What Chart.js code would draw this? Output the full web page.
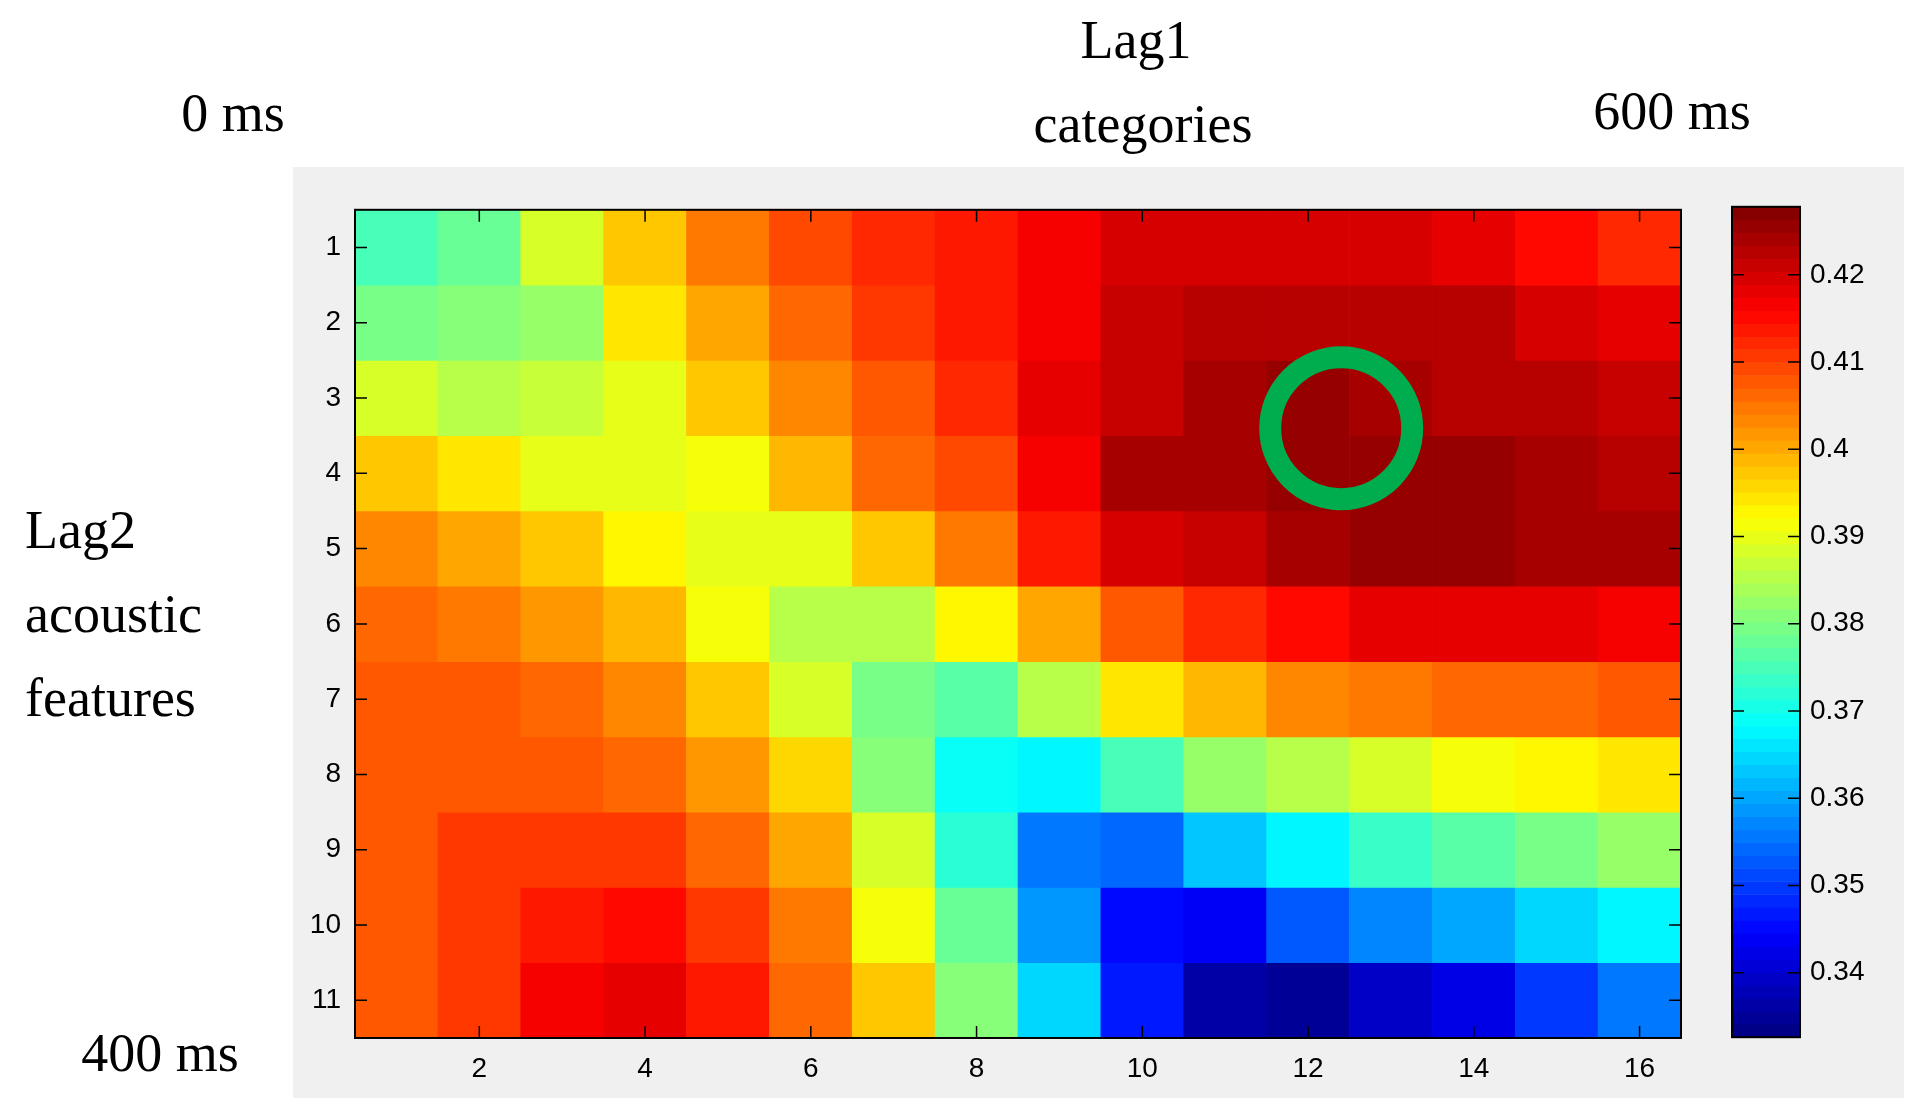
<!DOCTYPE html>
<html>
<head>
<meta charset="utf-8">
<script src="https://cdn.jsdelivr.net/npm/chart.js@4/dist/chart.umd.min.js"></script>
<style>
  body { margin: 0; width: 1910px; height: 1117px; background: #fff; position: relative; overflow: hidden;
         font-family: 'Liberation Serif', 'DejaVu Serif', serif; }
  #panel { position: absolute; left: 293px; top: 167px; width: 1611px; height: 931px; background: #f0f0f0; }
  .lbl { position: absolute; font-size: 54px; color: #000; white-space: nowrap; line-height: 1; }
  .c { transform: translate(-50%, -50%); }
  .l { transform: translate(0, -50%); }
  #heat { position: absolute; left: 293px; top: 187px; }
  #cbar { position: absolute; left: 1730px; top: 188px; }
</style>
</head>
<body>
<div id="panel"></div>
<div class="lbl c" style="left:1136px;top:40px">Lag1</div>
<div class="lbl c" style="left:1143px;top:124px">categories</div>
<div class="lbl c" style="left:233px;top:113px">0 ms</div>
<div class="lbl c" style="left:1672px;top:111px">600 ms</div>
<div class="lbl l" style="left:25px;top:530px">Lag2</div>
<div class="lbl l" style="left:25px;top:614px">acoustic</div>
<div class="lbl l" style="left:25px;top:698px">features</div>
<div class="lbl c" style="left:160px;top:1053px">400 ms</div>
<canvas id="heat" width="1390" height="905"></canvas>
<canvas id="cbar" width="140" height="868"></canvas>
<script>
// ── data ─────────────────────────────────────────────
const lag1Cols = [1, 2, 3, 4, 5, 6, 7, 8, 9, 10, 11, 12, 13, 14, 15, 16];
const lag2Rows = [1, 2, 3, 4, 5, 6, 7, 8, 9, 10, 11];
const row1  = [0.375, 0.378, 0.388, 0.398, 0.404, 0.409, 0.412, 0.414, 0.417, 0.419, 0.419, 0.419, 0.419, 0.418, 0.415, 0.412];
const row2  = [0.380, 0.381, 0.383, 0.395, 0.401, 0.406, 0.411, 0.414, 0.416, 0.421, 0.422, 0.422, 0.422, 0.422, 0.419, 0.418];
const row3  = [0.389, 0.385, 0.387, 0.390, 0.398, 0.403, 0.408, 0.412, 0.418, 0.421, 0.424, 0.425, 0.424, 0.423, 0.422, 0.421];
const row4  = [0.397, 0.394, 0.390, 0.390, 0.392, 0.399, 0.406, 0.409, 0.417, 0.424, 0.424, 0.425, 0.425, 0.425, 0.424, 0.423];
const row5  = [0.403, 0.400, 0.398, 0.393, 0.390, 0.390, 0.398, 0.404, 0.413, 0.419, 0.421, 0.424, 0.425, 0.425, 0.424, 0.424];
const row6  = [0.406, 0.404, 0.402, 0.399, 0.391, 0.386, 0.386, 0.393, 0.401, 0.408, 0.412, 0.415, 0.418, 0.418, 0.418, 0.416];
const row7  = [0.407, 0.407, 0.406, 0.403, 0.398, 0.389, 0.380, 0.377, 0.386, 0.394, 0.399, 0.403, 0.405, 0.406, 0.406, 0.407];
const row8  = [0.408, 0.408, 0.408, 0.406, 0.402, 0.396, 0.381, 0.369, 0.368, 0.375, 0.382, 0.386, 0.389, 0.391, 0.393, 0.395];
const row9  = [0.408, 0.410, 0.411, 0.411, 0.406, 0.400, 0.388, 0.372, 0.355, 0.354, 0.363, 0.368, 0.374, 0.377, 0.379, 0.382];
const row10 = [0.408, 0.411, 0.413, 0.415, 0.411, 0.405, 0.392, 0.378, 0.358, 0.345, 0.344, 0.353, 0.357, 0.360, 0.365, 0.368];
const row11 = [0.408, 0.411, 0.417, 0.418, 0.414, 0.406, 0.398, 0.381, 0.364, 0.347, 0.337, 0.335, 0.339, 0.343, 0.350, 0.355];
const rows = [row1, row2, row3, row4, row5, row6, row7, row8, row9, row10, row11];
const xTicks = [2, 4, 6, 8, 10, 12, 14, 16];
const cbarTicks = [0.34, 0.35, 0.36, 0.37, 0.38, 0.39, 0.40, 0.41, 0.42];
const cMin = 0.3326, cMax = 0.4278;
const marker = [{ x: 12.4, y: 3.4 }];

// ── jet colormap (64 levels, like MATLAB) ───────────
const clamp = v => Math.max(0, Math.min(1, v));
function jet(v) {
  let t = (v - cMin) / (cMax - cMin);
  t = (Math.min(63, Math.max(0, Math.floor(t * 64))) + 0.5) / 64;
  const r = clamp(Math.min(4 * t - 1.5, -4 * t + 4.5));
  const g = clamp(Math.min(4 * t - 0.5, -4 * t + 3.5));
  const b = clamp(Math.min(4 * t + 0.5, -4 * t + 2.5));
  return `rgb(${Math.round(r * 255)},${Math.round(g * 255)},${Math.round(b * 255)})`;
}

const tickFont = { family: "'Liberation Sans Narrow', 'Liberation Sans', sans-serif", size: 28 };

// inward tick marks on all four sides, MATLAB style
const inwardTicks = {
  id: 'inwardTicks',
  afterDraw(chart, args, opts) {
    const { ctx, chartArea: a } = chart;
    ctx.save();
    ctx.strokeStyle = '#000';
    ctx.lineWidth = 1.5;
    ctx.beginPath();
    for (const id of opts.scales || []) {
      const s = chart.scales[id];
      for (const t of s.ticks) {
        const p = s.getPixelForValue(t.value);
        if (s.isHorizontal()) {
          ctx.moveTo(p, a.bottom); ctx.lineTo(p, a.bottom - 12);
          ctx.moveTo(p, a.top); ctx.lineTo(p, a.top + 12);
        } else {
          ctx.moveTo(a.left, p); ctx.lineTo(a.left + 12, p);
          ctx.moveTo(a.right, p); ctx.lineTo(a.right - 12, p);
        }
      }
    }
    ctx.stroke();
    ctx.lineWidth = 2;
    ctx.strokeRect(a.left, a.top, a.right - a.left, a.bottom - a.top);
    ctx.restore();
  }
};

// ── heatmap ──────────────────────────────────────────
const heatSets = rows.map((vals, i) => ({
  type: 'bar',
  data: lag1Cols.map(c => ({ x: c, y: [lag2Rows[i] - 0.5, lag2Rows[i] + 0.5] })),
  backgroundColor: vals.map(jet),
  barPercentage: 1.0,
  categoryPercentage: 1.0,
  grouped: false,
  borderWidth: 0
}));
heatSets.unshift({
  type: 'scatter',
  data: marker,
  pointRadius: 71,
  pointHoverRadius: 71,
  pointBorderWidth: 22,
  pointBorderColor: '#00ad4e',
  pointBackgroundColor: 'rgba(0,0,0,0)'
});

new Chart(document.getElementById('heat'), {
  data: { datasets: heatSets },
  options: {
    responsive: false,
    animation: false,
    layout: { autoPadding: false, padding: { top: 2, right: 2 } },
    plugins: { legend: { display: false }, tooltip: { enabled: false }, inwardTicks: { scales: ['x', 'y'] } },
    scales: {
      x: {
        type: 'linear', min: 0.5, max: 16.5, offset: false,
        afterBuildTicks: s => { s.ticks = xTicks.map(v => ({ value: v })); },
        afterFit: s => { s.height = 54; },
        ticks: { color: '#000', font: tickFont, padding: 6 },
        grid: { display: false }, border: { display: false }
      },
      y: {
        type: 'linear', reverse: true, min: 0.5, max: 11.5,
        afterBuildTicks: s => { s.ticks = lag2Rows.map(v => ({ value: v })); },
        afterFit: s => { s.width = 62; },
        ticks: { color: '#000', font: tickFont, padding: 6 },
        grid: { display: false }, border: { display: false }
      }
    }
  },
  plugins: [inwardTicks]
});

// ── colorbar ─────────────────────────────────────────
const levels = Array.from({ length: 64 }, (_, k) => k);
const step = (cMax - cMin) / 64;
new Chart(document.getElementById('cbar'), {
  type: 'bar',
  data: {
    datasets: [{
      data: levels.map(k => ({ x: 1, y: [cMin + k * step, cMin + (k + 1) * step] })),
      backgroundColor: levels.map(k => jet(cMin + (k + 0.5) * step)),
      barPercentage: 1.0,
      categoryPercentage: 1.0,
      grouped: false,
      borderWidth: 0
    }]
  },
  options: {
    responsive: false,
    animation: false,
    layout: { autoPadding: false, padding: { top: 2, bottom: 2, left: 2 } },
    plugins: { legend: { display: false }, tooltip: { enabled: false }, inwardTicks: { scales: ['y'] } },
    scales: {
      x: { type: 'linear', min: 0.5, max: 1.5, offset: false, display: false },
      y: {
        position: 'right', min: cMin, max: cMax,
        afterBuildTicks: s => { s.ticks = cbarTicks.map(v => ({ value: v })); },
        afterFit: s => { s.width = 70; },
        ticks: { color: '#000', font: tickFont, padding: 2, callback: v => String(+v.toFixed(2)) },
        grid: { display: false }, border: { display: false }
      }
    }
  },
  plugins: [inwardTicks]
});
</script>
</body>
</html>
